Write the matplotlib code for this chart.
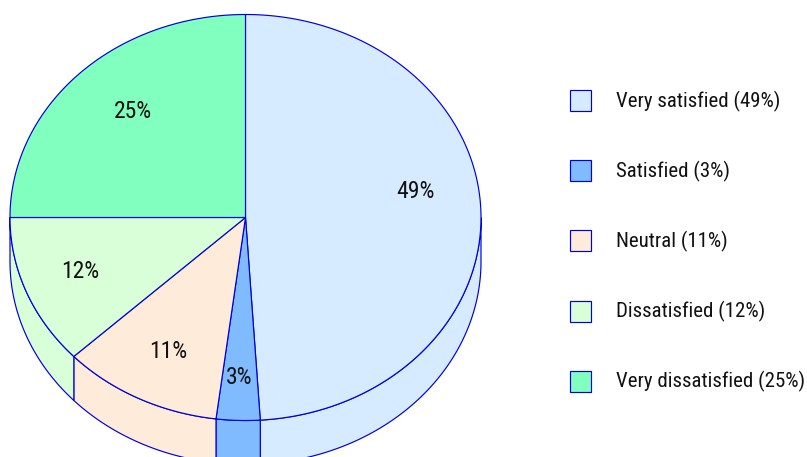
import numpy as np
import matplotlib
matplotlib.use('Agg')
import matplotlib.pyplot as plt
from matplotlib.patches import Polygon, Rectangle

categories = ['Very satisfied', 'Satisfied', 'Neutral', 'Dissatisfied', 'Very dissatisfied']
values = [49, 3, 11, 12, 25]
colors = ['#D6EBFF', '#80BBFF', '#FFEBD9', '#D9FFD9', '#80FFBF']

# layout, in pixels of the 807x457 picture
cx, cy = 245.5, 217.5
rx, ry = 235.5, 203
depth = 44
edge = '#0000DD'
label_xy = [(415, 191), (239, 377), (168, 351), (80, 270), (133, 111)]

plt.rcParams['font.family'] = ['Roboto Condensed', 'Liberation Sans Narrow', 'DejaVu Sans']

fig = plt.figure(figsize=(8.07, 4.57), dpi=100)
ax = fig.add_axes([0, 0, 1, 1])
ax.set_xlim(0, 807)
ax.set_ylim(457, 0)
ax.axis('off')


def arc(a0, a1, dy=0):
    # angles are clockwise from 12 o'clock
    t = np.radians(np.linspace(a0, a1, 200))
    return np.column_stack([cx + rx * np.sin(t), cy - ry * np.cos(t) + dy])


edges = np.cumsum([0] + values) * 3.6

# side wall, only the part facing the viewer (90 to 270 degrees)
for i in range(len(values)):
    a0, a1 = max(edges[i], 90), min(edges[i + 1], 270)
    if a0 >= a1:
        continue
    top = arc(a0, a1)
    bottom = arc(a0, a1, depth)[::-1]
    ax.add_patch(Polygon(np.vstack([top, bottom]), closed=True, facecolor=colors[i],
                         edgecolor=edge, linewidth=0.85, zorder=2))

# top face
for i in range(len(values)):
    pts = np.vstack([[[cx, cy]], arc(edges[i], edges[i + 1])])
    ax.add_patch(Polygon(pts, closed=True, facecolor=colors[i],
                         edgecolor=edge, linewidth=0.85, zorder=3))
    ax.text(label_xy[i][0], label_xy[i][1] + 1, f'{values[i]}%', fontsize=17,
            color='#111111', ha='center', va='center', zorder=4)

# legend
for i in range(len(values)):
    y = 100.5 + i * 70.2
    ax.add_patch(Rectangle((570, y - 10.5), 21, 21, facecolor=colors[i],
                           edgecolor=edge, linewidth=0.85, zorder=3))
    ax.text(615.5, y + 0.5, f'{categories[i]} ({values[i]}%)', fontsize=15,
            color='#111111', ha='left', va='center', zorder=4)

fig.savefig('out.png', dpi=100)
